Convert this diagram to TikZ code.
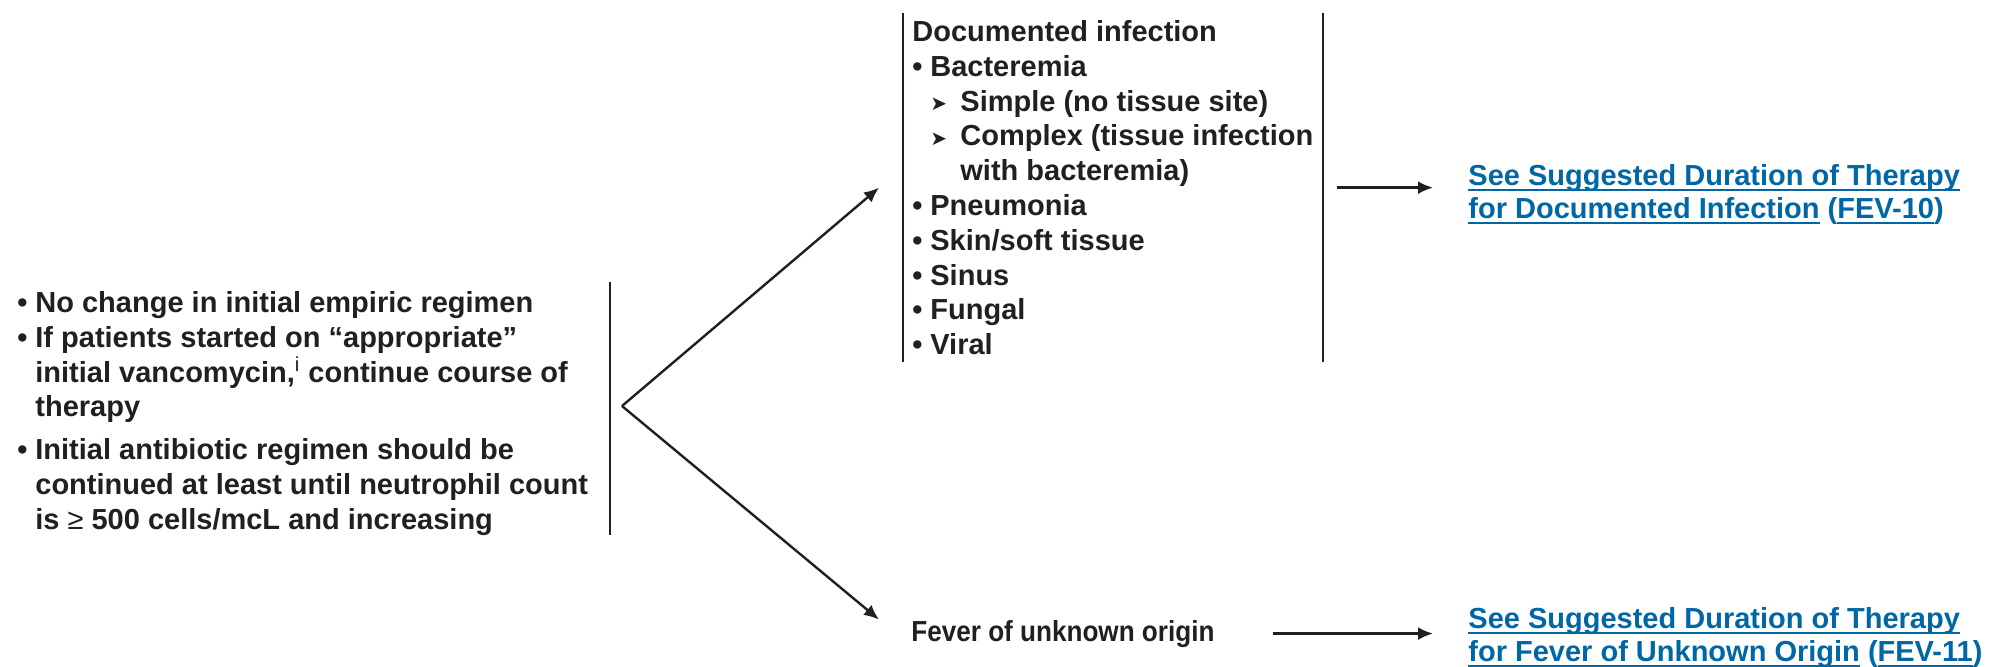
\documentclass[tikz,border=0pt]{standalone}
\usepackage{fontspec}
\setmainfont{Liberation Sans}
\newfontfamily\symfont{DejaVu Sans}
\newfontfamily\narrowfont[FakeStretch=0.9]{Liberation Sans}
\usetikzlibrary{arrows.meta, positioning}

\definecolor{ink}{RGB}{35,31,32}
\definecolor{nccnblue}{RGB}{0,103,166}

\newlength{\bulw}\setlength{\bulw}{9pt}
\newlength{\subw}\setlength{\subw}{15pt}
\newcommand{\bul}{\makebox[\bulw][l]{\textbullet}}
\newcommand{\subarr}{\hspace*{\bulw}\makebox[\subw][l]{\raisebox{0.3pt}{\symfont\fontsize{10}{10}\selectfont ➤}}}
\newcommand{\lnk}[1]{\begingroup\setbox0=\hbox{#1}\rlap{\rule[-2.8pt]{\wd0}{0.9pt}}\box0\endgroup}

\begin{document}
\begin{tikzpicture}[
    x=0.5pt, y=0.5pt, >={Latex[length=7.5pt,width=6.5pt]},
    txt/.style={font=\fontsize{14.5}{17.4}\selectfont\bfseries, text=ink,
                align=left, inner sep=0pt},
    linktxt/.style={txt, font=\fontsize{14.5}{16.4}\selectfont\bfseries, text=nccnblue},
    bar/.style={draw=ink, line width=1.2pt},
    flow/.style={->, draw=ink, line width=1.2pt}
  ]
  \useasboundingbox (0,0) rectangle (1989,-666);

  % Left block
  \node[txt, anchor=north west] (keep) at (17,-291) {%
    \bul No change in initial empiric regimen\\
    \bul If patients started on “appropriate”\\
    \hspace*{\bulw}initial vancomycin,\textsuperscript{\mdseries i} continue course of\\
    \hspace*{\bulw}therapy\\[4pt]
    \bul Initial antibiotic regimen should be\\
    \hspace*{\bulw}continued at least until neutrophil count\\
    \hspace*{\bulw}is {\mdseries ≥} 500 cells/mcL and increasing};
  \coordinate (barT) at (610,-282);
  \coordinate (barB) at (610,-535);
  \coordinate (fork) at (622,-406);
  \draw[bar] (barT) -- (barB);

  % Documented infection
  \node[txt, anchor=north west, inner xsep=4.5pt, inner ysep=3.5pt] (doc) at (903,-13) {%
    Documented infection\\
    \bul Bacteremia\\
    \subarr Simple (no tissue site)\\
    \subarr Complex (tissue infection\\
    \hspace*{\bulw}\hspace*{\subw}with bacteremia)\\
    \bul Pneumonia\\
    \bul Skin/soft tissue\\
    \bul Sinus\\
    \bul Fungal\\
    \bul Viral};
  \draw[bar] (doc.north west) -- (doc.south west);
  \draw[bar] (doc.north east) -- (doc.south east);

  % Fever of unknown origin
  \node[txt, font=\narrowfont\fontsize{14.5}{17.4}\selectfont\bfseries, anchor=base west] (fever)
    at (911,-641) {Fever of unknown origin};

  % Links
  \node[linktxt, anchor=north west] (seeDoc) at (1468,-164) {%
    \lnk{See Suggested Duration of Therapy}\\
    \lnk{for Documented Infection} (\lnk{FEV-10})};
  \node[linktxt, anchor=north west] (seeFUO) at (1468,-607) {%
    \lnk{See Suggested Duration of Therapy}\\
    \lnk{for Fever of Unknown Origin} (\lnk{FEV-11})};

  % Arrows
  \draw[flow] (fork) -- ([xshift=-12pt]doc.west);
  \draw[flow] (fork) -- ([xshift=-16pt]fever.north west);
  \draw[flow] ([xshift=7pt]doc.east) -- ([xshift=-17.5pt]doc.east -| seeDoc.west);
  \draw[flow] ([xshift=29pt]fever.east) -- ([xshift=-17.5pt]fever.east -| seeFUO.west);
\end{tikzpicture}
\end{document}
